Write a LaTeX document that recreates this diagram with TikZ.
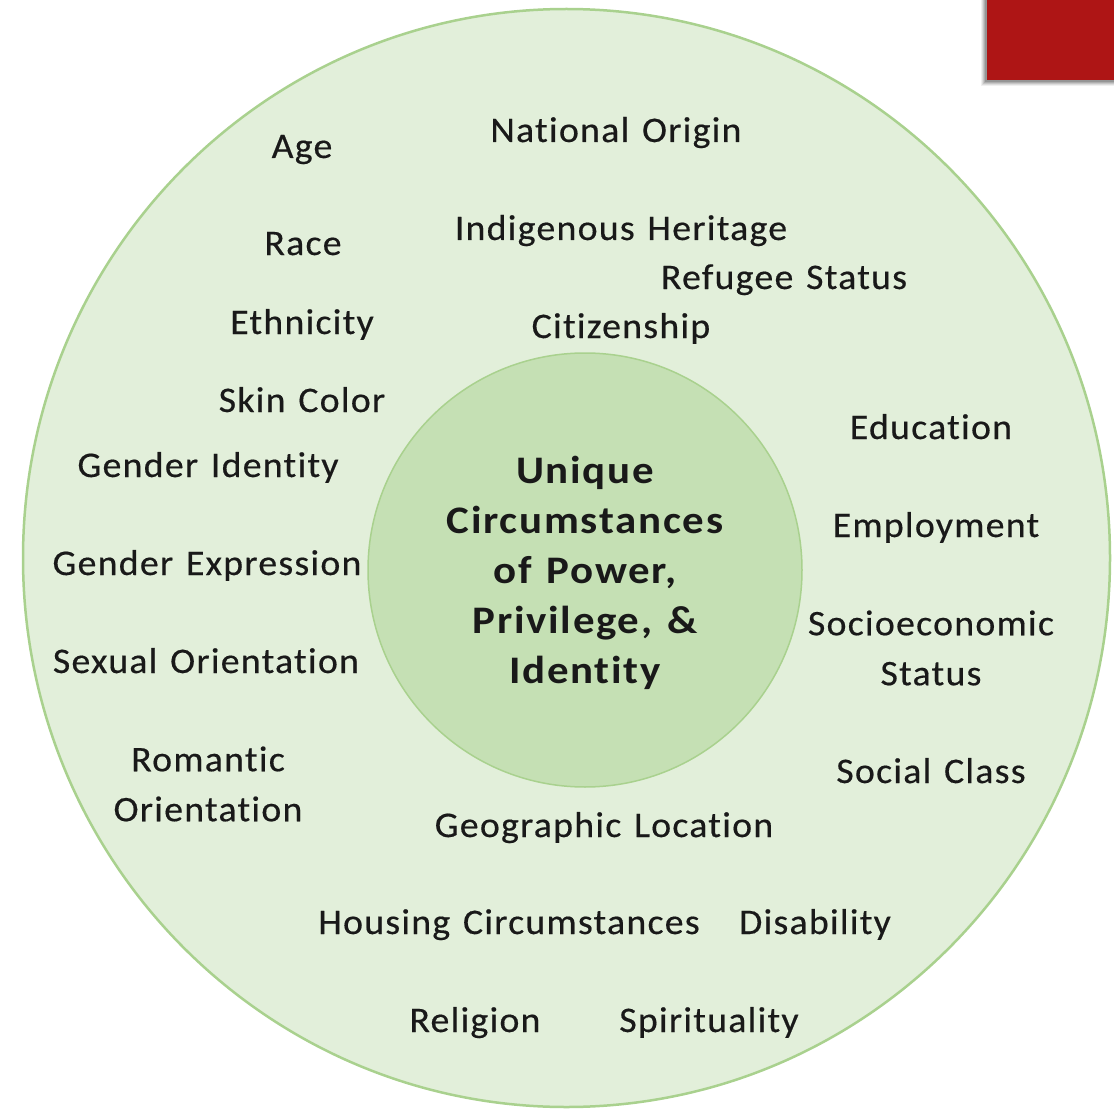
\documentclass[tikz,border=0pt]{standalone}
\usepackage{fontspec}
\setmainfont[Ligatures=NoCommon,FakeStretch=1.05,LetterSpace=3.5,WordSpace=1.3,FakeBold=0.4]{Carlito}
\newfontfamily\corefont[Ligatures=NoCommon,FakeStretch=1.1,LetterSpace=4.5,WordSpace=1.3]{Carlito}
\usetikzlibrary{shapes.geometric}
\definecolor{outerfill}{HTML}{E2EFDA}
\definecolor{outerline}{HTML}{A9D18E}
\definecolor{innerfill}{HTML}{C5E0B4}
\definecolor{innerline}{HTML}{A9D18E}
\definecolor{redbox}{HTML}{AE1515}
\begin{document}
\begin{tikzpicture}[x=1pt,y=1pt,
  lbl/.style={anchor=base,inner sep=0pt,font=\fontsize{36}{50}\selectfont,text=black!90},
  lbl2/.style={anchor=center,align=center,inner sep=0pt,font=\fontsize{36}{50}\selectfont,text=black!90},
  core/.style={anchor=center,align=center,inner sep=0pt,font=\corefont\fontsize{39}{50}\selectfont\bfseries,text=black!90}]
\useasboundingbox (0,0) rectangle (1114,-1110);
% red corner box with soft shadow
\foreach \o/\a in {6/0.06,5/0.08,4/0.10,3/0.12,2/0.14}{
  \fill[black,opacity=\a] (987-\o,0) rectangle (1114,-80-\o);
}
\fill[redbox] (987,0) rectangle (1114,-80);
% circles
\node[ellipse,minimum width=1087,minimum height=1098,draw=outerline,line width=2.5pt,fill=outerfill,inner sep=0pt] (outer) at (566.5,-558) {};
\node[circle,minimum size=434,draw=innerline,line width=1.5pt,fill=innerfill,inner sep=0pt] (inner) at (585,-570) {};
\node[core] (c) at (585,-573) {Unique\\Circumstances\\of Power,\\Privilege, \&\\Identity};
% labels
\node[lbl] (age) at (302,-158) {Age};
\node[lbl] (nat) at (616,-142) {National Origin};
\node[lbl] (race) at (303,-255) {Race};
\node[lbl] (ind) at (621,-240) {Indigenous Heritage};
\node[lbl] (ref) at (784,-289) {Refugee Status};
\node[lbl] (eth) at (302,-334) {Ethnicity};
\node[lbl] (cit) at (621,-338) {Citizenship};
\node[lbl] (skin) at (302,-412) {Skin Color};
\node[lbl] (edu) at (931,-439) {Education};
\node[lbl] (gid) at (208,-477) {Gender Identity};
\node[lbl] (emp) at (936,-537) {Employment};
\node[lbl] (gex) at (207,-575) {Gender Expression};
\node[lbl2] (ses) at (931,-648) {Socioeconomic\\Status};
\node[lbl] (sex) at (206,-673) {Sexual Orientation};
\node[lbl2] (rom) at (208,-784) {Romantic\\Orientation};
\node[lbl] (soc) at (931,-783) {Social Class};
\node[lbl] (geo) at (604,-837) {Geographic Location};
\node[lbl] (hou) at (509,-934) {Housing Circumstances};
\node[lbl] (dis) at (815,-934) {Disability};
\node[lbl] (rel) at (475,-1032) {Religion};
\node[lbl] (spi) at (709,-1032) {Spirituality};
\end{tikzpicture}
\end{document}
